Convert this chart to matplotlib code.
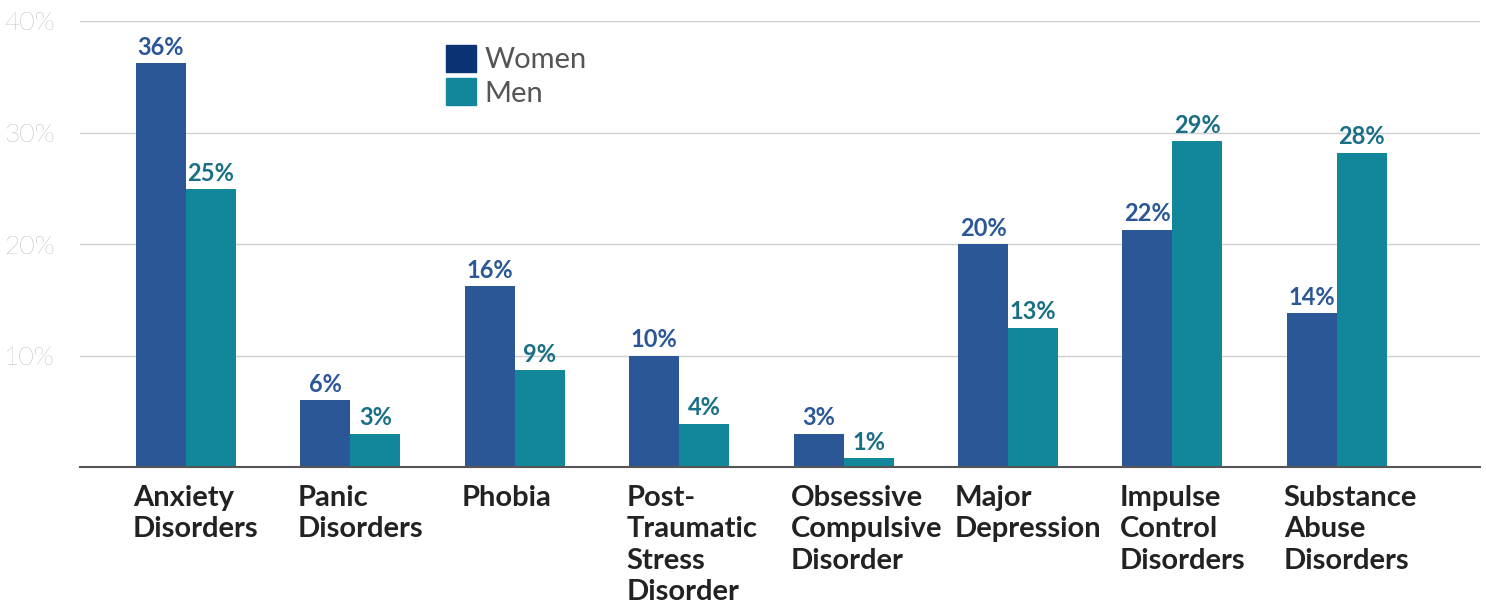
import matplotlib.pyplot as plt
import numpy as np
from matplotlib.patches import Patch

categories = ["Anxiety\nDisorders", "Panic\nDisorders", "Phobia", "Post-\nTraumatic\nStress\nDisorder",
              "Obsessive\nCompulsive\nDisorder", "Major\nDepression", "Impulse\nControl\nDisorders",
              "Substance\nAbuse\nDisorders"]
women = [36.2, 6.0, 16.2, 10.0, 3.0, 20.0, 21.3, 13.8]
men = [24.9, 3.0, 8.7, 3.9, 0.8, 12.5, 29.2, 28.2]
women_labels = ["36%", "6%", "16%", "10%", "3%", "20%", "22%", "14%"]
men_labels = ["25%", "3%", "9%", "4%", "1%", "13%", "29%", "28%"]
yticks = [10, 20, 30, 40]

plt.rcParams['font.family'] = ['Lato', 'DejaVu Sans']

fig = plt.figure(figsize=(14.86, 6.04), dpi=100)
ax = fig.add_axes([80/1486, 1-467/604, 1400/1486, 446/604])

step = 164.4  # pixels between groups
x = np.arange(len(categories))
w = 50/step
ax.bar(x - w/2, women, w, color="#2B5797")
ax.bar(x + w/2, men, w, color="#12879B")

for i in range(len(categories)):
    ax.annotate(women_labels[i], (x[i] - w/2, women[i]), xytext=(0, 3), textcoords="offset points",
                ha="center", va="bottom", fontsize=17, fontweight="bold", color="#2B5797")
    ax.annotate(men_labels[i], (x[i] + w/2, men[i]), xytext=(0, 3), textcoords="offset points",
                ha="center", va="bottom", fontsize=17, fontweight="bold", color="#1A6F86")
    ax.text(x[i] - w - 3/step, -1.6, categories[i], ha="left", va="top", fontsize=21,
            fontweight="bold", color="#222222", linespacing=1.26)

ax.set_xlim((80-186)/step, (1480-186)/step)
ax.set_ylim(0, 40)
ax.set_yticks(yticks)
ax.set_yticklabels([f"{t}%" for t in yticks])
ax.tick_params(axis="y", length=0, pad=18, labelsize=19, labelcolor="#8A8A8A")
for lab in ax.get_yticklabels():
    lab.set_fontweight("light")
ax.set_xticks([])
ax.grid(axis="y", color="#D0D0D0", linewidth=1)
ax.set_axisbelow(True)
for s in ["top", "right", "left"]:
    ax.spines[s].set_visible(False)
ax.spines["bottom"].set_color("#555555")
ax.spines["bottom"].set_linewidth(1.5)

handles = [Patch(color="#0B3273", label="Women"), Patch(color="#12879B", label="Men")]
ax.legend(handles=handles, loc="upper left", bbox_to_anchor=((446-80)/1400, 1-24/446),
          frameon=False, fontsize=21, handlelength=1.03, handleheight=1.03, handletextpad=0.3,
          labelspacing=0.17, borderpad=0, borderaxespad=0, labelcolor="#555555")

fig.savefig("out.png", dpi=100)
